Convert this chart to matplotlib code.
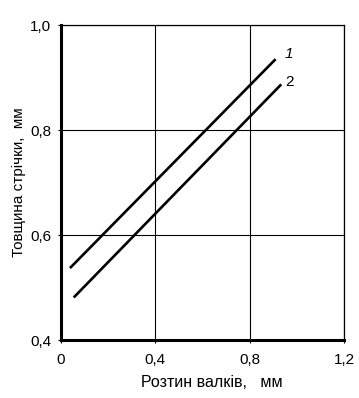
import matplotlib
matplotlib.use("Agg")
import matplotlib.pyplot as plt

plt.rcParams['font.family'] = ['Liberation Sans', 'DejaVu Sans']

# Data
line1_x = [0.038, 0.91]
line1_y = [0.537, 0.935]
line2_x = [0.054, 0.934]
line2_y = [0.481, 0.887]
curve_labels = ["1", "2"]
label_pos_x = [0.967, 0.971]
label_pos_y = [0.945, 0.891]
xticks = [0, 0.4, 0.8, 1.2]
xtick_labels = ["0", "0,4", "0,8", "1,2"]
yticks = [0.4, 0.6, 0.8, 1.0]
ytick_labels = ["0,4", "0,6", "0,8", "1,0"]
xlabel = "Розтин валків,   мм"
ylabel = "Товщина стрічки,  мм"

fig = plt.figure(figsize=(3.59, 3.98), dpi=100)
ax = fig.add_axes([61/359, 1-340/398, (344-61)/359, (340-25)/398])

ax.plot(line1_x, line1_y, color='black', lw=1.9, solid_capstyle='butt')
ax.plot(line2_x, line2_y, color='black', lw=1.9, solid_capstyle='butt')
ax.text(label_pos_x[0], label_pos_y[0], curve_labels[0], fontsize=11, style='italic',
        ha='center', va='center')
ax.text(label_pos_x[1], label_pos_y[1], curve_labels[1], fontsize=11,
        ha='center', va='center')

ax.set_xlim(0, 1.2)
ax.set_ylim(0.4, 1.0)
ax.set_xticks(xticks)
ax.set_xticklabels(xtick_labels)
ax.set_yticks(yticks)
ax.set_yticklabels(ytick_labels)
ax.grid(True, color='black', lw=0.8)
ax.tick_params(axis='both', length=2, width=0.8, labelsize=11, color='black')
ax.tick_params(axis='x', pad=7)
ax.tick_params(axis='y', pad=5)
for s in ['left', 'bottom']:
    ax.spines[s].set_linewidth(2.2)
for s in ['top', 'right']:
    ax.spines[s].set_linewidth(0.9)

ax.set_xlabel(xlabel, fontsize=11.5)
ax.xaxis.set_label_coords(0.534, -0.112)
ax.set_ylabel(ylabel, fontsize=11, labelpad=3)

fig.savefig("out.png", dpi=100)
